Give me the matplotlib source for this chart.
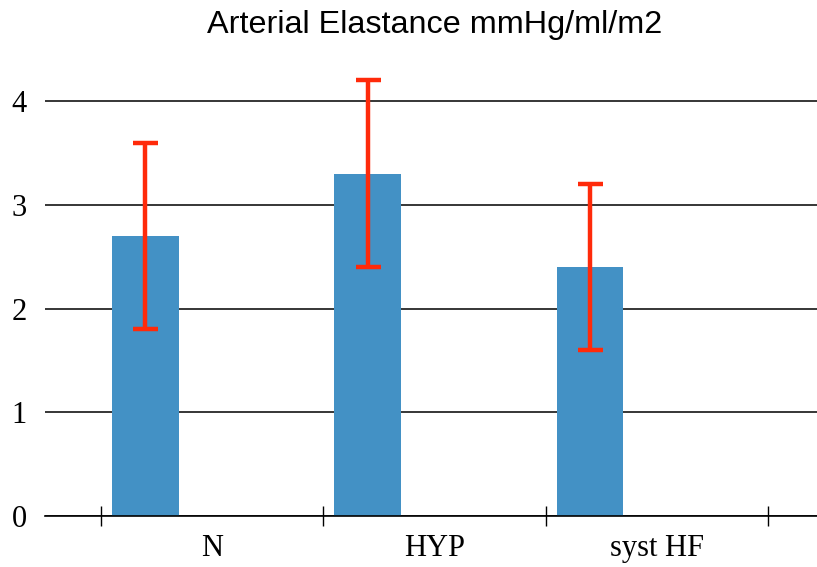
import matplotlib.pyplot as plt
import numpy as np

# data
categories = ["N", "HYP", "syst HF"]
means = [2.7, 3.3, 2.4]
err_low = [1.8, 2.4, 1.6]
err_high = [3.6, 4.2, 3.2]

bar_color = "#4391C5"
err_color = "#FF2A0A"

fig = plt.figure(figsize=(8.17, 5.67), dpi=100)
ax = fig.add_axes([45 / 817, 51 / 567, 772 / 817, 446 / 567])

x = np.arange(len(categories))
pos = x - 0.3
yerr = [np.array(means) - np.array(err_low), np.array(err_high) - np.array(means)]

ax.bar(pos, means, width=0.3, color=bar_color, zorder=2)
ax.errorbar(pos, means, yerr=yerr, fmt="none", ecolor=err_color,
            elinewidth=3.2, capsize=9, capthick=3.2, zorder=3)

ax.set_xlim(-0.752, 2.721)
ax.set_ylim(0, 4.3)

for side in ["top", "right", "left"]:
    ax.spines[side].set_visible(False)
ax.spines["bottom"].set_linewidth(1.2)

ax.set_yticks([0, 1, 2, 3, 4])
ax.yaxis.grid(True, color="black", linewidth=1.1, zorder=1)
ax.set_axisbelow(True)
ax.tick_params(axis="y", length=0, pad=13, labelsize=22)

ax.set_xticks(x)
ax.set_xticklabels(categories)
ax.set_xticks(np.arange(len(categories) + 1) - 0.5, minor=True)
ax.tick_params(axis="x", which="major", length=0, pad=13, labelsize=22)
ax.tick_params(axis="x", which="minor", direction="inout", length=14.4, width=1)

for lab in ax.get_xticklabels() + ax.get_yticklabels():
    lab.set_fontfamily("Liberation Serif")

fig.text(435 / 817, 1 - 25 / 567, "Arterial Elastance mmHg/ml/m2",
         ha="center", va="center", fontsize=23.3, family="Liberation Sans")

fig.savefig("out.png", dpi=100)
